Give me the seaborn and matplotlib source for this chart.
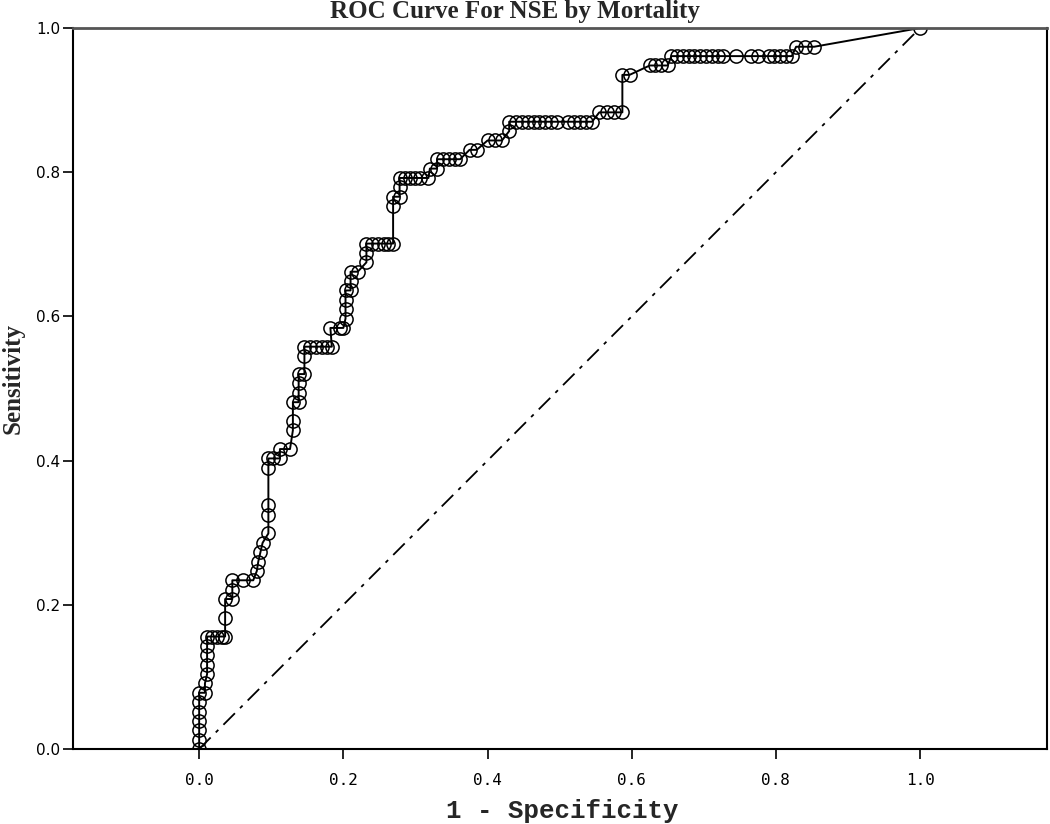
import numpy as np
import pandas as pd
import matplotlib
matplotlib.use("Agg")
import matplotlib.pyplot as plt
import seaborn as sns

# ROC curve points (1 - specificity, sensitivity)
fpr = [0, 0, 0, 0, 0, 0, 0,
       0.008, 0.008, 0.011, 0.011, 0.011, 0.011, 0.011,
       0.018, 0.025, 0.032, 0.036,
       0.036, 0.036,
       0.046, 0.046, 0.046,
       0.061, 0.075,
       0.080, 0.082,
       0.085, 0.088,
       0.096, 0.096, 0.096, 0.096, 0.096,
       0.103, 0.112,
       0.112, 0.126,
       0.130, 0.130, 0.130,
       0.138, 0.138, 0.138, 0.138,
       0.146, 0.146, 0.146,
       0.154, 0.162, 0.170, 0.177, 0.184,
       0.182, 0.195, 0.200,
       0.203, 0.203, 0.203, 0.203,
       0.210, 0.210, 0.210,
       0.220, 0.232, 0.232, 0.232,
       0.240, 0.248, 0.256, 0.262,
       0.269, 0.269, 0.269,
       0.278, 0.278, 0.278,
       0.285, 0.293, 0.300, 0.307, 0.318,
       0.320, 0.330, 0.330,
       0.338, 0.346, 0.355, 0.362,
       0.375, 0.385,
       0.400, 0.410, 0.420,
       0.430, 0.430,
       0.440, 0.448, 0.456, 0.464, 0.472, 0.480, 0.488, 0.496,
       0.512, 0.520, 0.528, 0.536, 0.545,
       0.555, 0.565, 0.575, 0.587,
       0.587, 0.597,
       0.625, 0.632, 0.640, 0.650,
       0.655, 0.663, 0.671, 0.679, 0.687, 0.695, 0.703, 0.711, 0.719,
       0.727, 0.745, 0.765, 0.775, 0.790, 0.798, 0.806, 0.814, 0.822,
       0.828, 0.840, 0.853,
       1.0]
tpr = [0, 0.013, 0.026, 0.039, 0.052, 0.065, 0.078,
       0.078, 0.091, 0.104, 0.117, 0.130, 0.143, 0.156,
       0.156, 0.156, 0.156, 0.156,
       0.182, 0.208,
       0.208, 0.221, 0.234,
       0.234, 0.234,
       0.247, 0.260,
       0.273, 0.286,
       0.299, 0.325, 0.338, 0.390, 0.403,
       0.403, 0.403,
       0.416, 0.416,
       0.442, 0.455, 0.481,
       0.481, 0.494, 0.507, 0.520,
       0.520, 0.545, 0.558,
       0.558, 0.558, 0.558, 0.558, 0.558,
       0.584, 0.584, 0.584,
       0.597, 0.610, 0.623, 0.636,
       0.636, 0.649, 0.662,
       0.662, 0.675, 0.688, 0.701,
       0.701, 0.701, 0.701, 0.701,
       0.701, 0.753, 0.766,
       0.766, 0.779, 0.792,
       0.792, 0.792, 0.792, 0.792, 0.792,
       0.805, 0.805, 0.818,
       0.818, 0.818, 0.818, 0.818,
       0.831, 0.831,
       0.844, 0.844, 0.844,
       0.857, 0.870,
       0.870, 0.870, 0.870, 0.870, 0.870, 0.870, 0.870, 0.870,
       0.870, 0.870, 0.870, 0.870, 0.870,
       0.883, 0.883, 0.883, 0.883,
       0.935, 0.935,
       0.948, 0.948, 0.948, 0.948,
       0.961, 0.961, 0.961, 0.961, 0.961, 0.961, 0.961, 0.961, 0.961,
       0.961, 0.961, 0.961, 0.961, 0.961, 0.961, 0.961, 0.961, 0.961,
       0.974, 0.974, 0.974,
       1.0]

diag_x = [0.0, 1.0]
diag_y = [0.0, 1.0]

x_ticks = [0.0, 0.2, 0.4, 0.6, 0.8, 1.0]
y_ticks = [0.0, 0.2, 0.4, 0.6, 0.8, 1.0]

title = "ROC Curve For NSE by Mortality"
xlabel = "1 - Specificity"
ylabel = "Sensitivity"

sns.set_theme(style="white")
plt.rcParams['font.family'] = ['DejaVu Sans']

df = pd.DataFrame({"fpr": fpr, "tpr": tpr, "order": np.arange(len(fpr))})

fig = plt.figure(figsize=(10.5, 8.24), dpi=100)
ax = fig.add_axes([73/1050, 1 - 749/824, (1047 - 73)/1050, (749 - 28)/824])

# diagonal reference line
sns.lineplot(x=diag_x, y=diag_y, ax=ax, color="black", linewidth=1.3,
             estimator=None, sort=False)
ax.lines[-1].set_linestyle((0, (9, 4, 2, 4)))

# ROC step curve with open circle markers
sns.lineplot(data=df, x="fpr", y="tpr", ax=ax, sort=False, estimator=None,
             color="black", linewidth=1.4, marker="o", markersize=9.5,
             markerfacecolor="none", markeredgecolor="black",
             markeredgewidth=1.1)
for ln in ax.lines:
    ln.set_clip_on(True)

ax.set_xlim(-0.175, 1.176)
ax.set_ylim(0, 1.0)
ax.set_xticks(x_ticks)
ax.set_yticks(y_ticks)
ax.set_xticklabels([f"{v:.1f}" for v in x_ticks], family="DejaVu Sans Mono", fontsize=11.5)
ax.set_yticklabels([f"{v:.1f}" for v in y_ticks], family="DejaVu Sans", fontsize=11)
ax.tick_params(axis="both", which="both", direction="out", length=7, width=1.2,
               color="black", left=True, bottom=True, labelcolor="black")
ax.tick_params(axis="x", pad=10)
ax.tick_params(axis="y", pad=2)
for side in ["left", "bottom", "right"]:
    ax.spines[side].set_color("black")
    ax.spines[side].set_linewidth(1.5)
ax.spines["top"].set_color("#555555")
ax.spines["top"].set_linewidth(2.0)
ax.set_xlabel("")
ax.set_ylabel("")

fig.text(515/1050, 1 - 18/824, title, ha="center", va="baseline",
         family="Liberation Serif", fontweight="bold", fontsize=18)
fig.text(562/1050, 1 - 811/824, xlabel, ha="center", va="center",
         family="Liberation Mono", fontweight="bold", fontsize=18.5)
fig.text(13/1050, 1 - 378/824, ylabel, ha="center", va="center", rotation=90,
         family="Liberation Serif", fontweight="bold", fontsize=18)

fig.savefig("out.png", dpi=100, facecolor="white")
